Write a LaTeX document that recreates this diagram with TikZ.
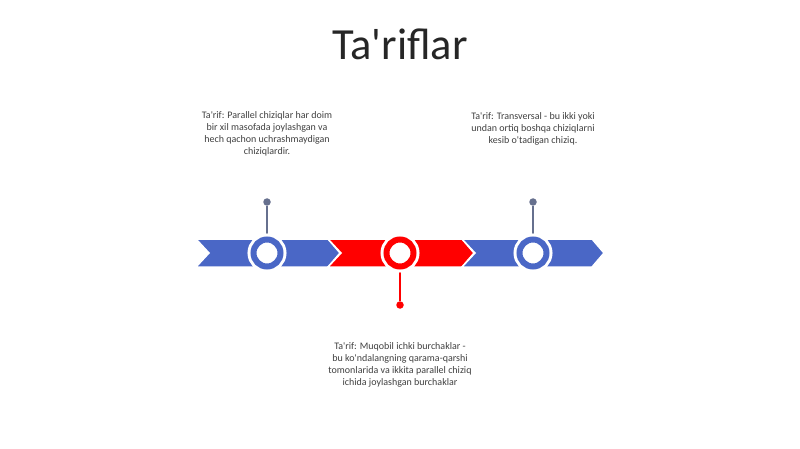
\documentclass[tikz,border=0pt]{standalone}
\usepackage{fontspec}
\setmainfont{Carlito}[Ligatures=TeXOff]
\definecolor{tlblue}{HTML}{4A67C6}
\definecolor{tlred}{HTML}{FF0000}
\definecolor{pingray}{HTML}{66708E}
\definecolor{txtgray}{HTML}{404040}
\newcommand{\chevronbar}[3]{%
  \fill[#3, draw=white, line width=1.5pt] (#1,239) -- (#2,239) -- (#2+12,253) -- (#2,267) -- (#1,267) -- (#1+13,253) -- cycle;}
\begin{document}
\begin{tikzpicture}[
    x=1pt, y=-1pt,
    ring/.style={circle, draw=#1, line width=6pt, fill=white, minimum size=27pt, inner sep=0pt,
      preaction={draw=white, line width=12pt}},
    pin/.style={circle, fill=#1, minimum size=7.5pt, inner sep=0pt},
    stem/.style={line width=1.3pt},
    note/.style={align=center, text=txtgray, font=\fontsize{10}{12.2}\selectfont}
]
\useasboundingbox (0,0) rectangle (800,449);
\fill[white] (0,0) rectangle (800,449);

\node (title) at (400,44) {\fontsize{44.5}{46}\selectfont\color[HTML]{262626}Ta'riflar};

% timeline arrows
\chevronbar{196}{328}{tlblue}
\chevronbar{328}{462}{tlred}
\chevronbar{462}{592}{tlblue}

\node (pin1) [pin=pingray] at (267,202) {};
\node (pin2) [pin=tlred] at (400,305) {};
\node (pin3) [pin=pingray] at (533,202) {};

\draw[stem, pingray] (pin1) -- (267,253);
\draw[stem, tlred] (pin2) -- (400,253);
\draw[stem, pingray] (pin3) -- (533,253);

\node (m1) [ring=tlblue] at (267,253) {};
\node (m2) [ring=tlred] at (400,253) {};
\node (m3) [ring=tlblue] at (533,253) {};

\node (d1) [note] at (267,134) {Ta'rif: Parallel chiziqlar har doim\\bir xil masofada joylashgan va\\hech qachon uchrashmaydigan\\chiziqlardir.};
\node (d2) [note] at (533,129) {Ta'rif: Transversal - bu ikki yoki\\undan ortiq boshqa chiziqlarni\\kesib o'tadigan chiziq.};
\node (d3) [note] at (400,365) {Ta'rif: Muqobil ichki burchaklar -\\bu ko'ndalangning qarama-qarshi\\tomonlarida va ikkita parallel chiziq\\ichida joylashgan burchaklar};

\end{tikzpicture}
\end{document}
